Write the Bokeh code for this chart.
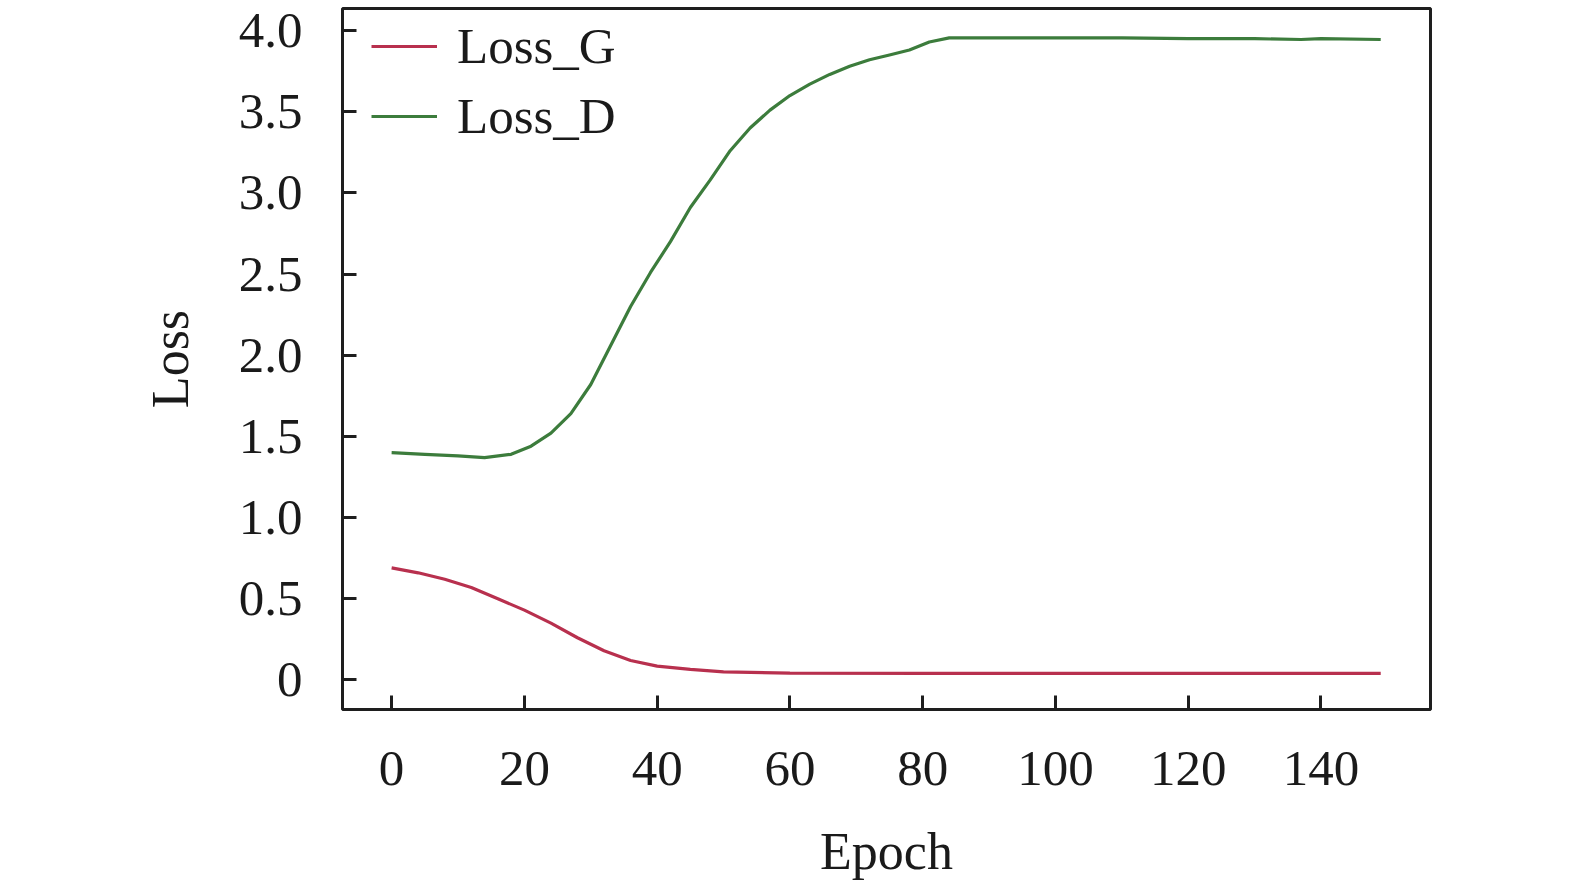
from bokeh.plotting import figure
from bokeh.models import Range1d, FixedTicker, Legend, LegendItem
from bokeh.embed import file_html
from bokeh.resources import INLINE

# Data
g_epochs = [0, 4, 8, 12, 16, 20, 24, 28, 32, 36, 40, 45, 50, 60, 80, 100, 120, 149]
loss_g = [0.69, 0.66, 0.62, 0.57, 0.50, 0.43, 0.35, 0.26, 0.18, 0.12, 0.085, 0.065, 0.05, 0.042, 0.04, 0.04, 0.04, 0.04]

d_epochs = [0, 5, 10, 14, 18, 21, 24, 27, 30, 33, 36, 39, 42, 45, 48, 51, 54, 57, 60, 63, 66, 69, 72, 75, 78, 81, 84, 90, 100, 110, 120, 130, 137, 140, 149]
loss_d = [1.40, 1.39, 1.38, 1.37, 1.39, 1.44, 1.52, 1.64, 1.82, 2.06, 2.30, 2.51, 2.70, 2.91, 3.08, 3.26, 3.40, 3.51, 3.60, 3.67, 3.73, 3.78, 3.82, 3.85, 3.88, 3.93, 3.955, 3.955, 3.955, 3.955, 3.95, 3.95, 3.945, 3.95, 3.945]

x_ticks = [0, 20, 40, 60, 80, 100, 120, 140]
y_ticks = [0, 0.5, 1.0, 1.5, 2.0, 2.5, 3.0, 3.5, 4.0]
y_tick_labels = {0: "0", 0.5: "0.5", 1.0: "1.0", 1.5: "1.5", 2.0: "2.0", 2.5: "2.5", 3.0: "3.0", 3.5: "3.5", 4.0: "4.0"}

FONT = "Liberation Serif"
TXT = "#1a1a1a"

p = figure(width=1556, height=885, output_backend="svg", toolbar_location=None,
           x_range=Range1d(-7.4, 156.5), y_range=Range1d(-0.182, 4.136),
           min_border_left=342, min_border_right=126, min_border_top=8, min_border_bottom=176)

p.outline_line_color = "#1e1e1e"
p.outline_line_width = 3
p.grid.visible = False
p.background_fill_color = "white"
p.border_fill_color = "white"

for ax in (p.xaxis[0], p.yaxis[0]):
    ax.axis_line_color = None
    ax.major_tick_in = 14
    ax.major_tick_out = 0
    ax.minor_tick_line_color = None
    ax.major_tick_line_width = 3
    ax.major_tick_line_color = "#1e1e1e"
    ax.major_label_text_font = FONT
    ax.major_label_text_font_size = "51px"
    ax.major_label_text_color = TXT
    ax.axis_label_text_font = FONT
    ax.axis_label_text_font_size = "52px"
    ax.axis_label_text_font_style = "normal"
    ax.axis_label_text_color = TXT

p.xaxis.ticker = FixedTicker(ticks=x_ticks)
p.yaxis.ticker = FixedTicker(ticks=y_ticks)
p.yaxis.major_label_overrides = y_tick_labels
p.xaxis.major_label_standoff = 42
p.yaxis.major_label_standoff = 40
p.xaxis.axis_label = "Epoch"
p.yaxis.axis_label = "Loss"
p.xaxis.axis_label_standoff = 35
p.yaxis.axis_label_standoff = 37

rg = p.line(g_epochs, loss_g, line_color="#b8304e", line_width=3.2)
rd = p.line(d_epochs, loss_d, line_color="#3c7c3c", line_width=3.2)

legend = Legend(items=[LegendItem(label="Loss_G", renderers=[rg]),
                       LegendItem(label="Loss_D", renderers=[rd])],
                location=(29, 564), orientation="vertical")
legend.background_fill_alpha = 0
legend.border_line_color = None
legend.label_text_font = FONT
legend.label_text_font_size = "51px"
legend.label_text_color = TXT
legend.glyph_width = 66
legend.glyph_height = 48
legend.label_height = 48
legend.label_standoff = 20
legend.spacing = 12
legend.padding = 10
legend.margin = 0
p.add_layout(legend)

open("out.html", "w").write(file_html(p, INLINE))
